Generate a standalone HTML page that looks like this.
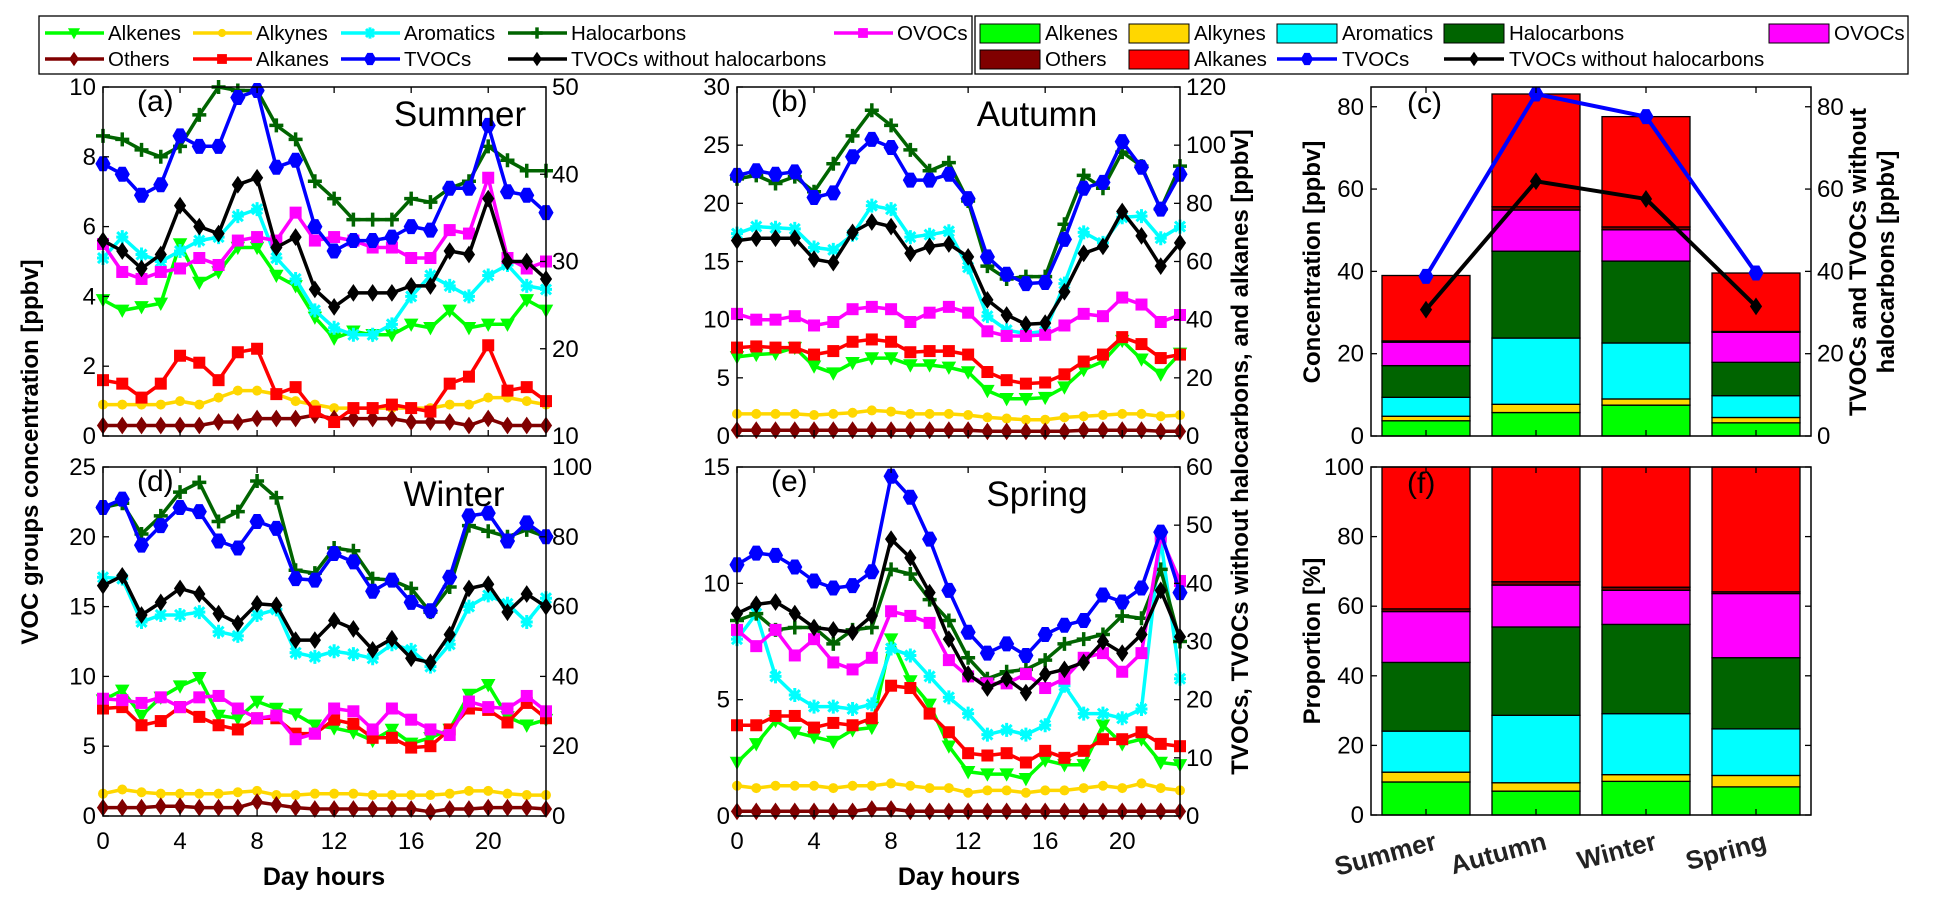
<!DOCTYPE html>
<html><head><meta charset="utf-8"><style>
html,body{margin:0;padding:0;background:#fff}
svg{display:block;font-family:"Liberation Sans",Arial,sans-serif}
</style></head><body>
<svg id="fig" width="1941" height="910" viewBox="0 0 1941 910" xmlns="http://www.w3.org/2000/svg"></svg>
<script>
const hours=[0,1,2,3,4,5,6,7,8,9,10,11,12,13,14,15,16,17,18,19,20,21,22,23];
// Summer (left axis ppbv; TVOC series right axis ppbv)
const sumAlkenes=[3.9,3.6,3.7,3.8,5.5,4.4,4.7,5.4,5.4,4.6,4.3,3.4,2.8,3.0,2.9,2.9,3.2,3.1,3.6,3.1,3.2,3.2,3.9,3.6];
const sumAlkynes=[0.9,0.9,0.9,0.9,1.0,0.9,1.1,1.3,1.3,1.2,1.0,0.9,0.8,0.8,0.8,0.8,0.8,0.8,0.9,0.9,1.1,1.1,1.0,0.9];
const sumAromatics=[5.1,5.7,5.2,5.0,5.3,5.6,5.7,6.3,6.5,5.1,4.5,3.6,3.1,2.9,2.9,3.2,4.0,4.6,4.3,4.0,4.6,4.9,4.3,4.2];
const sumHalocarbons=[8.6,8.5,8.2,8.0,8.3,9.2,10.0,9.9,9.9,8.9,8.5,7.3,6.8,6.2,6.2,6.2,6.8,6.7,7.1,7.3,8.3,7.9,7.6,7.6];
const sumOthers=[0.3,0.3,0.3,0.3,0.3,0.3,0.4,0.4,0.5,0.5,0.5,0.6,0.5,0.5,0.5,0.5,0.4,0.4,0.4,0.3,0.5,0.3,0.3,0.3];
const sumAlkanes=[1.6,1.5,1.1,1.5,2.3,2.1,1.6,2.4,2.5,1.2,1.4,0.7,0.4,0.8,0.8,0.9,0.8,0.7,1.5,1.7,2.6,1.3,1.4,1.0];
const sumOVOCs=[5.5,4.7,4.5,4.7,4.8,5.1,4.9,5.6,5.7,5.6,6.4,5.6,5.7,5.6,5.4,5.4,5.1,5.1,5.9,5.8,7.4,5.1,4.8,5.0];
const sumTVOCs=[41.2,40,37.6,38.8,44.4,43.2,43.2,48.8,49.6,40.8,41.6,34,31.2,32.4,32.4,32.8,34,33.6,38.4,38.4,45.6,38,37.6,35.6];
const sumTVOCsNoHalo=[32.4,31.2,29.2,30.8,36.4,34,33.2,38.8,39.6,31.6,32.8,26.8,24.8,26.4,26.4,26.4,27.2,27.2,31.2,30.8,37.2,30,30,28];
// Autumn
const autAlkenes=[6.8,7.0,7.1,7.6,6.0,5.4,6.3,6.7,6.7,6.1,6.1,5.9,5.5,3.9,3.2,3.2,3.3,4.2,5.7,6.4,8.2,6.6,5.3,7.1];
const autAlkynes=[1.9,1.9,1.9,1.9,1.8,1.9,2.0,2.2,2.1,1.9,1.9,1.9,1.8,1.6,1.5,1.4,1.4,1.6,1.7,1.8,1.9,1.9,1.7,1.8];
const autAromatics=[17.4,18.0,17.9,17.8,16.2,16.0,17.3,19.8,19.5,17.1,17.3,17.6,14.5,10.3,9.1,8.8,9.0,13.1,17.5,16.6,18.8,18.9,17.0,18.0];
const autHalocarbons=[22.1,22.4,21.7,22.3,21.0,23.4,25.8,28.0,26.7,24.6,22.8,23.5,20.2,14.6,13.5,13.7,13.7,18.2,22.4,21.3,24.4,23.2,19.5,23.2];
const autOthers=[0.5,0.5,0.5,0.5,0.5,0.5,0.5,0.5,0.5,0.5,0.5,0.5,0.5,0.4,0.4,0.4,0.4,0.4,0.5,0.5,0.5,0.5,0.4,0.4];
const autAlkanes=[7.6,7.7,7.6,7.6,7.0,7.3,8.1,8.3,8.1,7.2,7.3,7.3,7.0,5.5,4.8,4.5,4.6,5.3,6.4,7.0,8.5,7.9,6.7,7.0];
const autOVOCs=[10.5,10.0,10.0,10.3,9.5,9.8,10.9,11.1,10.9,9.8,10.6,11.1,10.6,9.0,8.6,8.6,8.7,9.5,10.5,10.3,11.9,11.3,9.8,10.4];
const autTVOCs=[89.6,91.2,90,90.8,82,83.6,96,102,99.2,88,88,90,81.6,61.6,55.6,52.4,52.8,67.6,85.2,87.2,101.2,92.4,78,90];
const autTVOCsNoHalo=[67.2,68,68,68,60.8,59.6,70,73.6,72,62.8,65.2,66,61.6,46.8,41.6,38.4,38.8,49.6,62.8,65.2,77.2,68.8,58.4,66.4];
// Winter
const winAlkenes=[8.3,9.0,7.2,8.5,9.3,9.9,7.2,7.0,8.2,7.7,7.3,6.5,6.3,6.0,5.4,6.2,5.2,5.6,6.2,8.7,9.4,7.1,6.5,6.9];
const winAlkynes=[1.6,1.9,1.7,1.6,1.6,1.6,1.6,1.7,1.8,1.5,1.5,1.6,1.6,1.6,1.5,1.5,1.5,1.5,1.6,1.8,1.8,1.6,1.5,1.5];
const winAromatics=[17.1,17.0,13.9,14.4,14.4,14.6,13.2,12.9,14.4,14.8,11.7,11.4,11.8,11.6,11.3,12.3,11.9,10.7,12.3,15.0,15.8,15.2,13.9,15.6];
const winHalocarbons=[22.1,22.4,20.2,21.5,23.2,23.9,21.1,21.8,24.0,22.8,17.6,17.4,19.2,19.0,17.0,16.9,16.3,14.6,16.4,20.8,20.4,20.0,20.5,20.0];
const winOthers=[0.6,0.6,0.6,0.7,0.7,0.6,0.6,0.6,1.0,0.8,0.6,0.5,0.5,0.5,0.5,0.5,0.5,0.3,0.5,0.5,0.6,0.6,0.6,0.5];
const winAlkanes=[7.7,7.8,6.5,6.8,7.8,7.1,6.5,6.2,7.0,7.0,5.9,5.9,6.9,6.6,5.6,5.6,4.9,5.0,6.2,7.7,7.6,6.7,8.1,7.0];
const winOVOCs=[8.4,8.3,8.1,8.5,7.8,8.5,8.6,7.7,7.0,7.2,5.5,5.9,7.7,7.5,6.2,7.7,6.9,6.2,5.8,8.2,7.8,7.7,8.6,7.5];
const winTVOCs=[88.4,90.8,77.6,83.2,88.4,87.2,78.8,76.8,84.4,82.4,68,67.6,75.2,72.8,64.4,67.6,61.2,58.8,68.4,86,86.8,78.8,84,80];
const winTVOCsNoHalo=[66,68.8,57.6,61.2,65.2,63.6,58,55.2,60.8,60.4,50.4,50.4,56,53.6,47.6,50.8,45.2,44,52,65.2,66.4,58.4,63.6,60];
// Spring
const sprAlkenes=[2.3,3.1,4.1,3.6,3.4,3.2,3.7,3.8,7.6,5.8,4.8,3.0,1.9,1.8,1.8,1.6,2.4,2.2,2.2,3.9,3.1,3.3,2.3,2.2];
const sprAlkynes=[1.3,1.2,1.3,1.3,1.3,1.2,1.3,1.3,1.4,1.3,1.2,1.2,1.0,1.1,1.1,1.0,1.1,1.1,1.2,1.3,1.2,1.4,1.2,1.1];
const sprAromatics=[7.6,8.7,6.0,5.2,4.7,4.7,4.6,4.8,7.2,6.9,6.0,5.1,4.4,3.5,3.7,3.5,3.9,5.6,4.4,4.4,4.2,4.6,11.9,5.9];
const sprHalocarbons=[8.4,8.7,8.0,8.1,8.1,7.4,8.0,8.1,10.6,10.4,9.3,8.4,6.8,5.9,6.2,6.3,6.7,7.4,7.6,7.8,8.6,8.5,10.6,7.5];
const sprOthers=[0.2,0.2,0.2,0.2,0.2,0.2,0.2,0.3,0.3,0.2,0.2,0.2,0.2,0.2,0.2,0.2,0.2,0.2,0.2,0.2,0.2,0.2,0.2,0.2];
const sprAlkanes=[3.9,3.9,4.3,4.3,3.8,4.0,3.9,4.2,5.6,5.5,4.4,3.6,2.7,2.6,2.7,2.3,2.8,2.5,2.8,3.3,3.3,3.6,3.1,3.0];
const sprOVOCs=[8.0,7.3,8.0,6.9,7.6,6.6,6.3,6.8,8.8,8.6,8.3,6.7,6.0,5.7,5.7,6.1,5.5,5.9,6.8,7.0,6.2,7.0,12.0,10.1];
const sprTVOCs=[43.2,45.2,44.8,42.8,40.4,39.2,39.6,42,58.4,54.8,47.6,38.8,31.6,28,29.6,27.6,31.2,32.8,33.6,38,36.8,39.2,48.8,38.4];
const sprTVOCsNoHalo=[34.8,36.4,36.8,34.8,32.4,32,31.6,34.4,47.6,44.4,38.4,30.4,24.4,22,23.6,21.2,24.4,25.2,26.4,30,28,31.2,38.8,30.8];
// Seasonal means (panel c), stacked bottom->top
const seasons=["Summer","Autumn","Winter","Spring"];
const barAlkenes=[3.7,5.7,7.5,3.2];
const barAlkynes=[1.1,2.0,1.5,1.3];
const barAromatics=[4.6,16.1,13.6,5.3];
const barHalocarbons=[7.7,21.1,19.9,8.1];
const barOVOCs=[5.7,10.0,7.6,7.3];
const barOthers=[0.3,0.8,0.7,0.2];
const barAlkanes=[15.9,27.4,26.8,14.2];
const meanTVOCs=[38.8,83.1,77.6,39.6];
const meanTVOCsNoHalo=[30.7,61.9,57.6,31.5];

const NS="http://www.w3.org/2000/svg";
const svg=document.getElementById('fig');
function el(tag,attrs,parent,text){const e=document.createElementNS(NS,tag);for(const k in attrs)e.setAttribute(k,attrs[k]);if(text!==undefined)e.textContent=text;(parent||svg).appendChild(e);return e;}

const COL={alkenes:"#00ff00",alkynes:"#ffd700",aromatics:"#00ffff",halocarbons:"#006400",others:"#800000",alkanes:"#ff0000",ovocs:"#ff00ff",tvocs:"#0000ff",nohalo:"#000000"};
const MK={alkenes:"tri",alkynes:"circ",aromatics:"star",halocarbons:"plus",others:"diam",alkanes:"sq",ovocs:"sq",tvocs:"hex",nohalo:"diam"};

function marker(g,type,x,y,c,s){s=s||1;
  if(type==="tri")return el('path',{d:`M${x-6*s},${y-5*s}L${x+6*s},${y-5*s}L${x},${y+6*s}Z`,fill:c,stroke:c,'stroke-width':1.5},g);
  if(type==="circ")return el('circle',{cx:x,cy:y,r:4.5*s,fill:c,stroke:c},g);
  if(type==="sq")return el('rect',{x:x-5.5*s,y:y-5.5*s,width:11*s,height:11*s,fill:c,stroke:c},g);
  if(type==="diam")return el('path',{d:`M${x},${y-8*s}L${x+5.5*s},${y}L${x},${y+8*s}L${x-5.5*s},${y}Z`,fill:c,stroke:c},g);
  if(type==="hex")return el('path',{d:`M${x-3*s},${y-7*s}L${x+3*s},${y-7*s}L${x+7*s},${y}L${x+3*s},${y+7*s}L${x-3*s},${y+7*s}L${x-7*s},${y}Z`,fill:c,stroke:c},g);
  if(type==="plus")return el('path',{d:`M${x-7*s},${y}H${x+7*s}M${x},${y-7*s}V${y+7*s}`,stroke:c,'stroke-width':3.5,fill:'none'},g);
  if(type==="star")return el('path',{d:`M${x-6*s},${y}H${x+6*s}M${x},${y-7*s}V${y+7*s}M${x-5*s},${y-5*s}L${x+5*s},${y+5*s}M${x+5*s},${y-5*s}L${x-5*s},${y+5*s}`,stroke:c,'stroke-width':3,fill:'none'},g);
}

function ticksY(g,p,vals,fn,side,labels){
  vals.forEach(v=>{const y=fn(v);
    if(side==="l"){el('line',{x1:p.x0,x2:p.x0+6,y1:y,y2:y,stroke:'#000','stroke-width':1.3},g);
      if(labels){const t=el('text',{x:p.x0-7,y:y+8,'text-anchor':'end','font-size':24},g,String(v));}}
    else{el('line',{x1:p.x1-6,x2:p.x1,y1:y,y2:y,stroke:'#000','stroke-width':1.3},g);
      if(labels){const t=el('text',{x:p.x1+6,y:y+8,'text-anchor':'start','font-size':24},g,String(v));}}
  });
}

function linePanel(name,p,data,letter,title,xlabels){
  const g=el('g',{});
  
  
  const X=h=>p.x0+(h-0)/23*(p.x1-p.x0);
  const YL=v=>p.y1-(v-p.lmin)/(p.lmax-p.lmin)*(p.y1-p.y0);
  const YR=v=>p.y1-(v-p.rmin)/(p.rmax-p.rmin)*(p.y1-p.y0);
  const order=["alkenes","alkynes","aromatics","halocarbons","others","alkanes","ovocs","tvocs","nohalo"];
  order.forEach(k=>{
    const arr=data[k];const Y=(k==="tvocs"||k==="nohalo")?YR:YL;
    const s=el('g',{},g);
    
    
    const pts=arr.map((v,i)=>X(hours[i]).toFixed(1)+','+Y(v).toFixed(1)).join(' ');
    el('polyline',{points:pts,fill:'none',stroke:COL[k],'stroke-width':3.5,'stroke-linejoin':'round'},s);
    arr.forEach((v,i)=>{const m=marker(s,MK[k],X(hours[i]),Y(v),COL[k]);});
  });
  el('rect',{x:p.x0,y:p.y0,width:p.x1-p.x0,height:p.y1-p.y0,fill:'none',stroke:'#000','stroke-width':1.5},g);
  [0,4,8,12,16,20].forEach(h=>{const x=X(h);
    el('line',{x1:x,x2:x,y1:p.y1,y2:p.y1-6,stroke:'#000','stroke-width':1.3},g);
    el('line',{x1:x,x2:x,y1:p.y0,y2:p.y0+6,stroke:'#000','stroke-width':1.3},g);
    if(xlabels){const t=el('text',{x:x,y:p.y1+33,'text-anchor':'middle','font-size':24},g,String(h));}
  });
  ticksY(g,p,p.lt,YL,"l",true);
  ticksY(g,p,p.rt,YR,"r",true);
  const lt=el('text',{x:p.x0+34,y:p.y0+24,'font-size':30},g,letter);
  
  const tt=el('text',{x:p.tx,y:p.y0+39,'text-anchor':'middle','font-size':35},g,title);
  
}

linePanel('panel-a-summer',{x0:103,x1:546,y0:87,y1:436,lmin:0,lmax:10,rmin:10,rmax:50,lt:[0,2,4,6,8,10],rt:[10,20,30,40,50],tx:460},
  {alkenes:sumAlkenes,alkynes:sumAlkynes,aromatics:sumAromatics,halocarbons:sumHalocarbons,others:sumOthers,alkanes:sumAlkanes,ovocs:sumOVOCs,tvocs:sumTVOCs,nohalo:sumTVOCsNoHalo},'(a)','Summer',false);
linePanel('panel-b-autumn',{x0:737,x1:1180,y0:87,y1:436,lmin:0,lmax:30,rmin:0,rmax:120,lt:[0,5,10,15,20,25,30],rt:[0,20,40,60,80,100,120],tx:1037},
  {alkenes:autAlkenes,alkynes:autAlkynes,aromatics:autAromatics,halocarbons:autHalocarbons,others:autOthers,alkanes:autAlkanes,ovocs:autOVOCs,tvocs:autTVOCs,nohalo:autTVOCsNoHalo},'(b)','Autumn',false);
linePanel('panel-d-winter',{x0:103,x1:546,y0:467,y1:816,lmin:0,lmax:25,rmin:0,rmax:100,lt:[0,5,10,15,20,25],rt:[0,20,40,60,80,100],tx:454},
  {alkenes:winAlkenes,alkynes:winAlkynes,aromatics:winAromatics,halocarbons:winHalocarbons,others:winOthers,alkanes:winAlkanes,ovocs:winOVOCs,tvocs:winTVOCs,nohalo:winTVOCsNoHalo},'(d)','Winter',true);
linePanel('panel-e-spring',{x0:737,x1:1180,y0:467,y1:816,lmin:0,lmax:15,rmin:0,rmax:60,lt:[0,5,10,15],rt:[0,10,20,30,40,50,60],tx:1037},
  {alkenes:sprAlkenes,alkynes:sprAlkynes,aromatics:sprAromatics,halocarbons:sprHalocarbons,others:sprOthers,alkanes:sprAlkanes,ovocs:sprOVOCs,tvocs:sprTVOCs,nohalo:sprTVOCsNoHalo},'(e)','Spring',true);

// Bar panels
const stackKeys=["alkenes","alkynes","aromatics","halocarbons","ovocs","others","alkanes"];
const stackData={alkenes:barAlkenes,alkynes:barAlkynes,aromatics:barAromatics,halocarbons:barHalocarbons,ovocs:barOVOCs,others:barOthers,alkanes:barAlkanes};
function barPanel(name,p,prop,letter){
  const g=el('g',{});
  
  
  const slot=(p.x1-p.x0)/seasons.length;
  const X=i=>p.x0+slot*(i+0.5);
  const Y=v=>p.y1-(v-0)/(p.ymax)*(p.y1-p.y0);
  const bw=88;
  seasons.forEach((s,i)=>{
    let total=0;stackKeys.forEach(k=>total+=stackData[k][i]);
    let cum=0;
    stackKeys.forEach(k=>{
      let v=stackData[k][i];if(prop)v=v/total*100;
      const r=el('rect',{x:X(i)-bw/2,y:Y(cum+v),width:bw,height:Y(cum)-Y(cum+v),fill:COL[k],stroke:'#000','stroke-width':1.3},g);
      
      
      cum+=v;
    });
  });
  if(!prop){
    [["tvocs",meanTVOCs,"hex"],["nohalo",meanTVOCsNoHalo,"diam"]].forEach(([k,arr,m])=>{
      const s=el('g',{},g);
      
      
      el('polyline',{points:arr.map((v,i)=>X(i)+','+Y(v)).join(' '),fill:'none',stroke:COL[k],'stroke-width':4},s);
      arr.forEach((v,i)=>{const mm=marker(s,m,X(i),Y(v),COL[k]);});
    });
  }
  el('rect',{x:p.x0,y:p.y0,width:p.x1-p.x0,height:p.y1-p.y0,fill:'none',stroke:'#000','stroke-width':1.5},g);
  seasons.forEach((s,i)=>{
    el('line',{x1:X(i),x2:X(i),y1:p.y1,y2:p.y1-6,stroke:'#000','stroke-width':1.3},g);
    el('line',{x1:X(i),x2:X(i),y1:p.y0,y2:p.y0+6,stroke:'#000','stroke-width':1.3},g);
    if(prop){const ax=X(i)+12,ay=p.y1+34;const t=el('text',{x:ax,y:ay,'text-anchor':'end','font-size':26,'font-weight':'bold',fill:'#222',transform:`rotate(-15 ${ax} ${ay})`},g,s);}
  });
  ticksY(g,p,p.lt,Y,"l",true);
  ticksY(g,p,p.lt,Y,"r",!prop);
  const lt=el('text',{x:p.x0+36,y:p.y0+26,'font-size':30},g,letter);
  
}
barPanel('panel-c-concentration',{x0:1371,x1:1811,y0:87,y1:436,ymax:84.8,lt:[0,20,40,60,80]},false,'(c)');
barPanel('panel-f-proportion',{x0:1371,x1:1811,y0:467,y1:815,ymax:100,lt:[0,20,40,60,80,100]},true,'(f)');

// axis titles
function vtext(name,x,y,txt,size){const t=el('text',{x:x,y:y,'text-anchor':'middle','font-size':size,'font-weight':'bold',transform:`rotate(-90 ${x} ${y})`},svg,txt);}
vtext('left-y-axis-title',38,452,'VOC groups concentration [ppbv]',24);
vtext('right-y-axis-title',1248,452,'TVOCs, TVOCs without halocarbons, and alkanes [ppbv]',24);
vtext('concentration-axis-title',1320,262,'Concentration [ppbv]',24);
vtext('proportion-axis-title',1320,641,'Proportion [%]',24);
vtext('tvocs-axis-title-line1',1866,262,'TVOCs and TVOCs without',24);
vtext('tvocs-axis-title-line2',1894,262,'halocarbons [ppbv]',24);
[[324,'day-hours-label-left'],[959,'day-hours-label-right']].forEach(([x,n])=>{const t=el('text',{x:x,y:885,'text-anchor':'middle','font-size':25,'font-weight':'bold'},svg,'Day hours');});

// legends
const lg1=el('g',{});


el('rect',{x:39,y:16,width:933,height:58,fill:'#fff',stroke:'#000','stroke-width':1.3},lg1);
const leg1=[["alkenes","Alkenes",45,33],["alkynes","Alkynes",193,33],["aromatics","Aromatics",341,33],["halocarbons","Halocarbons",508,33],["ovocs","OVOCs",834,33],
 ["others","Others",45,59],["alkanes","Alkanes",193,59],["tvocs","TVOCs",341,59],["nohalo","TVOCs without halocarbons",508,59]];
leg1.forEach(([k,t,x,y])=>{const e=el('g',{},lg1);
  el('line',{x1:x,x2:x+59,y1:y,y2:y,stroke:COL[k],'stroke-width':3.5},e);marker(e,MK[k],x+29,y,COL[k],0.8);
  el('text',{x:x+63,y:y+7,'font-size':20.5},e,t);});
const lg2=el('g',{});


el('rect',{x:975,y:16,width:933,height:58,fill:'#fff',stroke:'#000','stroke-width':1.3},lg2);
const leg2=[["alkenes","Alkenes",980,33,"p"],["alkynes","Alkynes",1129,33,"p"],["aromatics","Aromatics",1277,33,"p"],["halocarbons","Halocarbons",1444,33,"p"],["ovocs","OVOCs",1769,33,"p"],
 ["others","Others",980,59,"p"],["alkanes","Alkanes",1129,59,"p"],["tvocs","TVOCs",1277,59,"l"],["nohalo","TVOCs without halocarbons",1444,59,"l"]];
leg2.forEach(([k,t,x,y,ty])=>{const e=el('g',{},lg2);
  if(ty==="p")el('rect',{x:x,y:y-9,width:60,height:19,fill:COL[k],stroke:'#000','stroke-width':1},e);
  else{el('line',{x1:x,x2:x+60,y1:y,y2:y,stroke:COL[k],'stroke-width':3.5},e);marker(e,k==="tvocs"?"hex":"diam",x+30,y,COL[k],0.8);}
  el('text',{x:x+65,y:y+7,'font-size':20.5},e,t);});
</script>
</body></html>
